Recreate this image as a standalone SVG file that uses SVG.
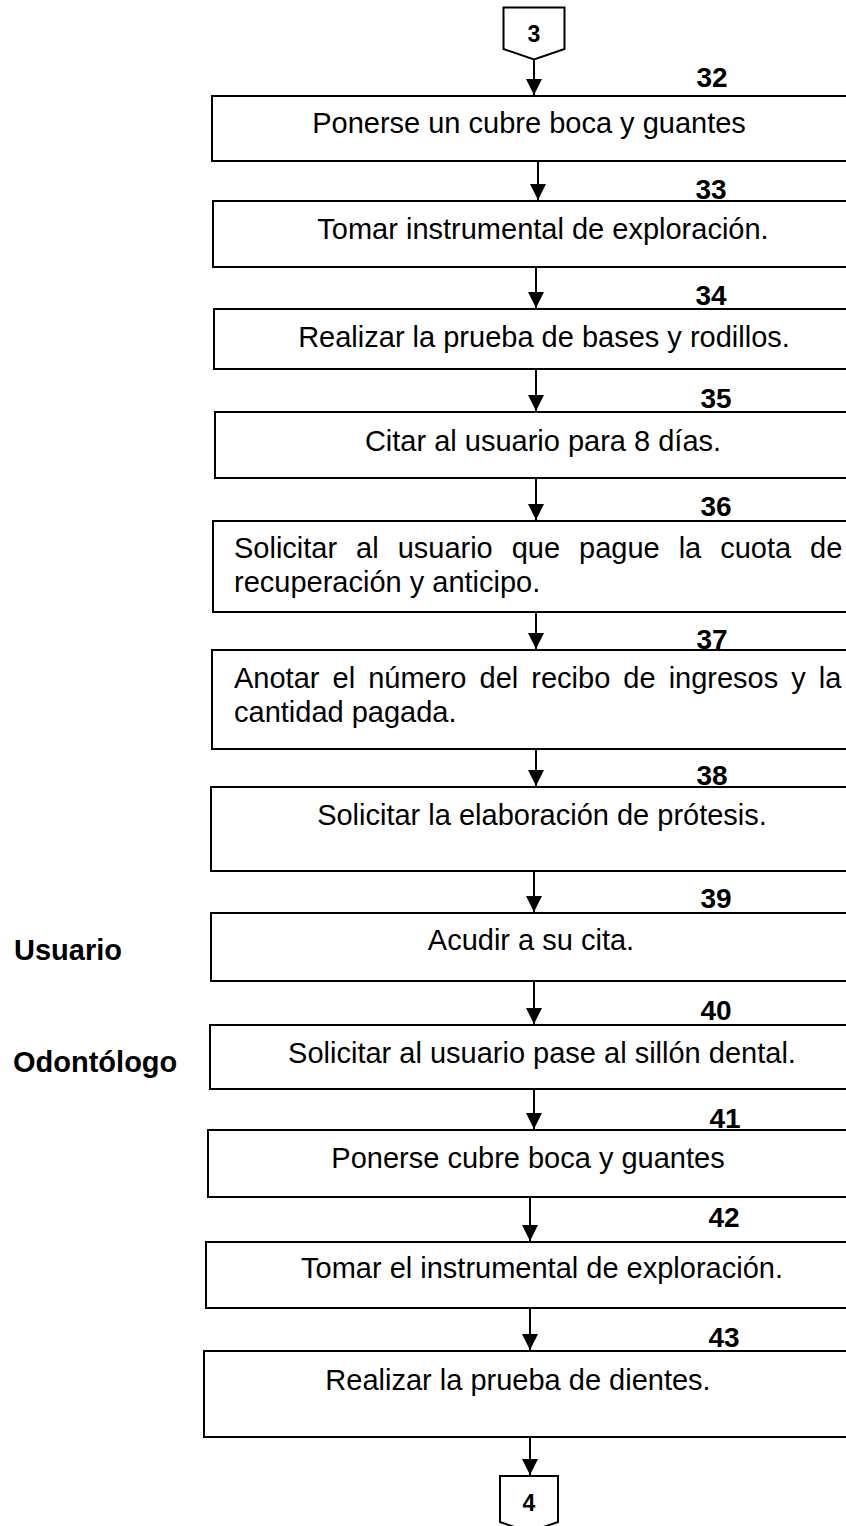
<svg xmlns="http://www.w3.org/2000/svg" width="846" height="1526" viewBox="0 0 846 1526">
<defs>
<style>
.box{fill:#fff;stroke:#000;stroke-width:2}
.t{font-family:"Liberation Sans",Arial,sans-serif;font-size:29px;fill:#000}
.c{text-anchor:middle}
.n{font-family:"Liberation Sans",Arial,sans-serif;font-size:28px;font-weight:bold;fill:#000;text-anchor:middle}
.lane{font-family:"Liberation Sans",Arial,sans-serif;font-size:29px;font-weight:bold;fill:#000}
.off{fill:#fff;stroke:#000;stroke-width:2}
.offt{font-family:"Liberation Sans",Arial,sans-serif;font-size:23px;font-weight:bold;fill:#000;text-anchor:middle}
.ln{stroke:#000;stroke-width:2;fill:none}
</style>
<marker id="ah" viewBox="0 0 10 10" refX="10" refY="5" markerWidth="8" markerHeight="8" markerUnits="strokeWidth" orient="auto">
<path d="M0,0 L10,5 L0,10 Z" fill="#000"/>
</marker>
</defs>
<rect width="846" height="1526" fill="#fff"/>

<g id="lanes">
<text class="lane" x="14" y="960">Usuario</text>
<text class="lane" x="13" y="1072">Odontólogo</text>
</g>

<g id="conn3">
<polygon class="off" points="503.5,7.5 564.5,7.5 564.5,49 534,59.5 503.5,49"/>
<text class="offt" x="534" y="42">3</text>
</g>

<g id="n32">
<rect class="box" x="212" y="96" width="660" height="65"/>
<text class="n" x="712" y="87">32</text>
<text class="t c" x="529" y="133">Ponerse un cubre boca y guantes</text>
</g>
<g id="n33">
<rect class="box" x="213" y="201" width="660" height="66"/>
<text class="n" x="711" y="199">33</text>
<text class="t c" x="543" y="239">Tomar instrumental de exploración.</text>
</g>
<g id="n34">
<rect class="box" x="214" y="309" width="660" height="60"/>
<text class="n" x="711" y="305">34</text>
<text class="t c" x="544" y="347">Realizar la prueba de bases y rodillos.</text>
</g>
<g id="n35">
<rect class="box" x="215" y="412" width="660" height="66"/>
<text class="n" x="716" y="408">35</text>
<text class="t c" x="543" y="451">Citar al usuario para 8 días.</text>
</g>
<g id="n36">
<rect class="box" x="213" y="521" width="660" height="91"/>
<text class="n" x="716" y="516">36</text>
<text class="t" x="234" y="558" word-spacing="10.9">Solicitar al usuario que pague la cuota de</text>
<text class="t" x="234" y="592">recuperación y anticipo.</text>
</g>
<g id="n37">
<rect class="box" x="212" y="650" width="660" height="99"/>
<text class="n" x="712" y="649">37</text>
<text class="t" x="234" y="688" word-spacing="5">Anotar el número del recibo de ingresos y la</text>
<text class="t" x="234" y="722">cantidad pagada.</text>
</g>
<g id="n38">
<rect class="box" x="211" y="787" width="660" height="84"/>
<text class="n" x="712" y="785">38</text>
<text class="t c" x="542" y="825">Solicitar la elaboración de prótesis.</text>
</g>
<g id="n39">
<rect class="box" x="211" y="913" width="660" height="68"/>
<text class="n" x="716" y="908">39</text>
<text class="t c" x="531" y="950">Acudir a su cita.</text>
</g>
<g id="n40">
<rect class="box" x="210" y="1025" width="660" height="64"/>
<text class="n" x="716" y="1020">40</text>
<text class="t c" x="542" y="1063">Solicitar al usuario pase al sillón dental.</text>
</g>
<g id="n41">
<rect class="box" x="208" y="1130" width="660" height="67"/>
<text class="n" x="725" y="1128">41</text>
<text class="t c" x="528" y="1168">Ponerse cubre boca y guantes</text>
</g>
<g id="n42">
<rect class="box" x="206" y="1242" width="660" height="66"/>
<text class="n" x="724" y="1227">42</text>
<text class="t c" x="542" y="1278">Tomar el instrumental de exploración.</text>
</g>
<g id="n43">
<rect class="box" x="204" y="1351" width="660" height="86"/>
<text class="n" x="724" y="1347">43</text>
<text class="t c" x="518" y="1390">Realizar la prueba de dientes.</text>
</g>

<g id="conn4">
<polygon class="off" points="500,1476 558,1476 558,1522 529,1532 500,1522"/>
<text class="offt" x="529" y="1511">4</text>
</g>

<g id="connectors">
<line class="ln" x1="534" y1="59.5" x2="534" y2="95" marker-end="url(#ah)"/>
<line class="ln" x1="538" y1="161" x2="538" y2="200" marker-end="url(#ah)"/>
<line class="ln" x1="536" y1="267" x2="536" y2="308" marker-end="url(#ah)"/>
<line class="ln" x1="536" y1="369" x2="536" y2="411" marker-end="url(#ah)"/>
<line class="ln" x1="536" y1="478" x2="536" y2="520" marker-end="url(#ah)"/>
<line class="ln" x1="536" y1="612" x2="536" y2="649" marker-end="url(#ah)"/>
<line class="ln" x1="536" y1="749" x2="536" y2="786" marker-end="url(#ah)"/>
<line class="ln" x1="534" y1="871" x2="534" y2="912" marker-end="url(#ah)"/>
<line class="ln" x1="534" y1="981" x2="534" y2="1024" marker-end="url(#ah)"/>
<line class="ln" x1="534" y1="1089" x2="534" y2="1129" marker-end="url(#ah)"/>
<line class="ln" x1="530" y1="1197" x2="530" y2="1241" marker-end="url(#ah)"/>
<line class="ln" x1="530" y1="1308" x2="530" y2="1350" marker-end="url(#ah)"/>
<line class="ln" x1="530" y1="1437" x2="530" y2="1475" marker-end="url(#ah)"/>
</g>
</svg>
